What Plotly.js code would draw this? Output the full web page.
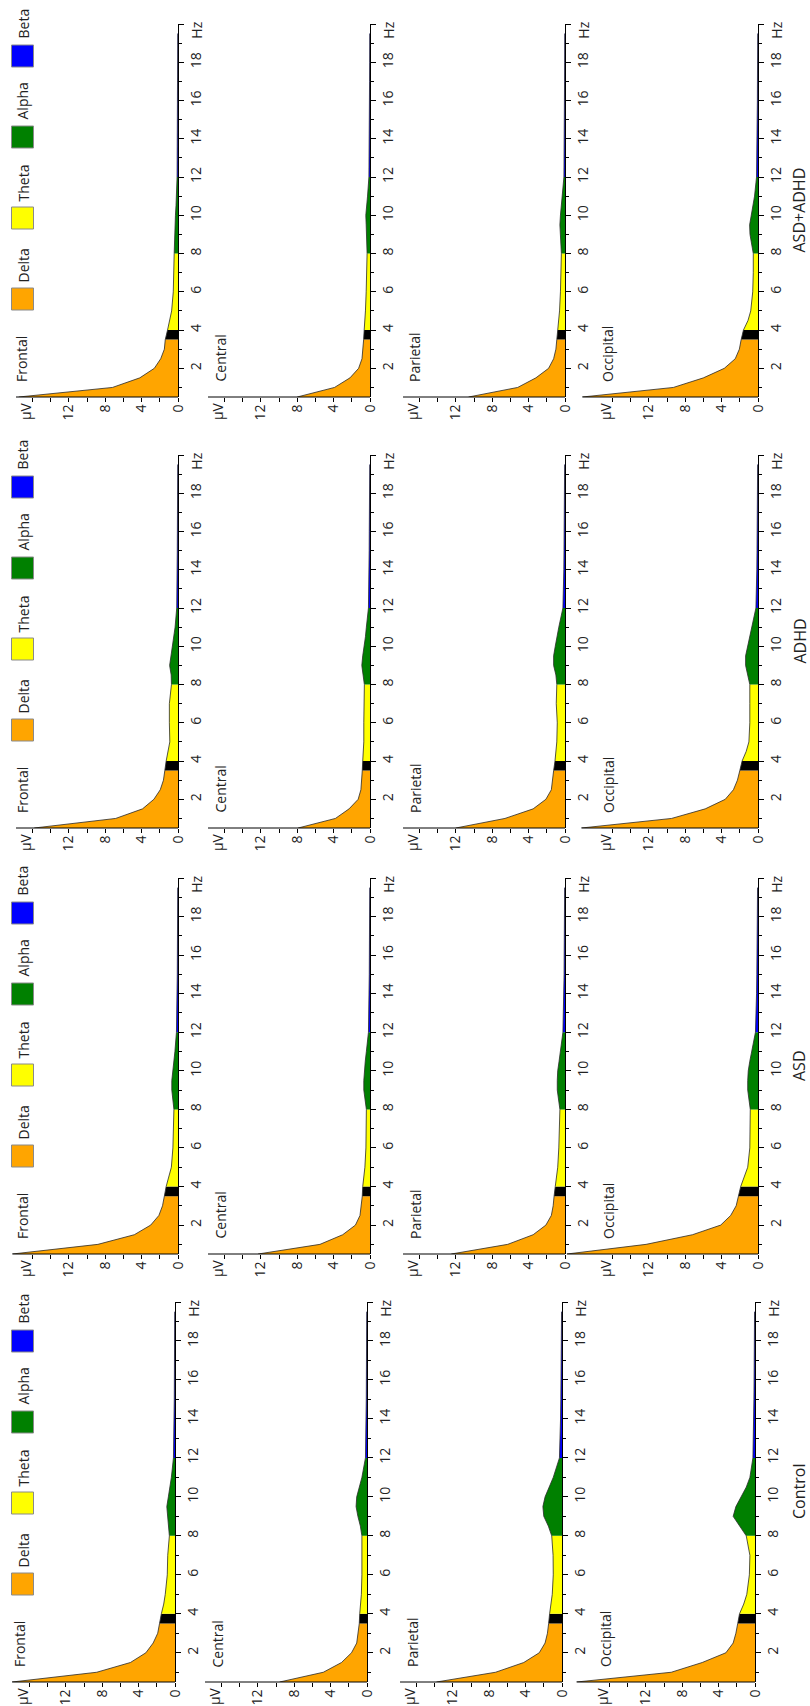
<!DOCTYPE html>
<html><head><meta charset="utf-8">
<script src="https://cdn.plot.ly/plotly-3.0.1.min.js"></script>
<style>body{margin:0;background:#fff}#chart{width:810px;height:1706px}</style>
</head><body><div id="chart"></div>
<script>
// ---------- data ----------
const freqHz = [0.5,1,1.5,2,2.5,3,3.5,4,4.5,5,6,7,8,8.5,9,9.5,10,10.5,11,12,13,14,15,16,17,18,19,19.5];

const groups  = ['ASD+ADHD','ADHD','ASD','Control'];
const regions = ['Frontal','Central','Parietal','Occipital'];

const bandNames  = ['Delta','', 'Theta','Alpha','Beta'];
const bandLo     = [0.5, 3.5, 4, 8, 12];
const bandHi     = [3.5, 4, 8, 12, 19.5];
const bandColors = ['#FFA500','#000000','#FFFF00','#008000','#0000FF'];
const legendNames = ['Delta','Theta','Alpha','Beta'];
const legendColors = ['#FFA500','#FFFF00','#008000','#0000FF'];

const asdadhd_frontal   = [17.5,7.2,4.2,2.6,1.9,1.5,1.4,1.15,0.9,0.7,0.52,0.46,0.42,0.4,0.36,0.33,0.28,0.22,0.17,0.1,0.08,0.07,0.06,0.05,0.04,0.04,0.03,0.03];
const asdadhd_central   = [8.0,3.9,2.2,1.25,0.88,0.76,0.7,0.64,0.56,0.5,0.42,0.36,0.32,0.33,0.36,0.42,0.46,0.4,0.27,0.12,0.09,0.08,0.07,0.06,0.05,0.04,0.04,0.03];
const asdadhd_parietal  = [10.6,5.2,3.2,1.8,1.25,1.0,0.9,0.8,0.7,0.6,0.5,0.45,0.4,0.45,0.52,0.56,0.5,0.4,0.28,0.12,0.09,0.08,0.07,0.06,0.05,0.04,0.04,0.03];
const asdadhd_occipital = [19.3,9.3,6.0,3.7,2.5,2.05,1.85,1.6,1.1,0.8,0.58,0.52,0.52,0.7,0.88,0.92,0.72,0.55,0.38,0.16,0.12,0.1,0.08,0.07,0.06,0.05,0.04,0.03];

const adhd_frontal   = [15.8,6.85,3.9,2.65,1.95,1.6,1.45,1.3,1.08,0.9,0.95,0.95,0.72,0.75,0.92,0.78,0.56,0.45,0.32,0.14,0.1,0.09,0.08,0.07,0.06,0.05,0.04,0.03];
const adhd_central   = [7.9,3.8,2.3,1.3,1.0,0.9,0.85,0.8,0.74,0.68,0.68,0.68,0.62,0.73,0.9,0.8,0.62,0.5,0.4,0.17,0.12,0.1,0.09,0.08,0.06,0.05,0.04,0.03];
const adhd_parietal  = [12.0,6.6,3.5,2.1,1.5,1.35,1.25,1.1,1.0,0.9,0.85,0.96,0.9,1.0,1.25,1.25,1.07,0.9,0.68,0.23,0.16,0.13,0.11,0.09,0.08,0.06,0.05,0.04];
const adhd_occipital = [19.4,9.5,5.8,3.6,2.7,2.26,2.0,1.75,1.3,1.0,0.9,0.9,0.9,1.13,1.36,1.36,1.13,0.9,0.62,0.23,0.16,0.13,0.11,0.09,0.08,0.06,0.05,0.04];

const asd_frontal   = [18.2,8.8,4.8,3.0,2.1,1.7,1.5,1.3,1.0,0.73,0.56,0.5,0.45,0.56,0.68,0.68,0.56,0.45,0.34,0.17,0.12,0.1,0.08,0.07,0.06,0.05,0.04,0.03];
const asd_central   = [12.3,5.5,3.0,1.6,1.1,0.96,0.85,0.8,0.68,0.56,0.45,0.4,0.4,0.5,0.68,0.68,0.62,0.52,0.4,0.17,0.12,0.1,0.08,0.07,0.06,0.05,0.04,0.03];
const asd_parietal  = [12.5,6.3,3.5,2.1,1.5,1.3,1.2,1.07,0.92,0.8,0.68,0.62,0.56,0.68,0.85,0.85,0.8,0.65,0.5,0.23,0.16,0.13,0.1,0.09,0.07,0.06,0.05,0.04];
const asd_occipital = [21.0,12.3,7.2,4.1,3.0,2.4,2.15,1.9,1.5,1.13,0.9,0.85,0.85,1.0,1.13,1.13,1.07,0.9,0.68,0.28,0.2,0.16,0.13,0.11,0.09,0.07,0.06,0.05];

const control_frontal   = [17.9,8.6,4.9,3.2,2.4,1.9,1.7,1.5,1.24,1.07,0.85,0.8,0.62,0.73,0.85,0.9,0.73,0.56,0.4,0.17,0.12,0.1,0.08,0.07,0.06,0.05,0.04,0.03];
const control_central   = [9.6,4.8,2.8,1.7,1.13,0.96,0.85,0.8,0.7,0.62,0.56,0.56,0.56,0.73,1.0,1.2,1.13,0.85,0.56,0.17,0.12,0.1,0.08,0.07,0.06,0.05,0.04,0.03];
const control_parietal  = [13.8,7.3,4.2,2.5,1.86,1.6,1.47,1.36,1.2,1.07,0.96,0.98,1.13,1.5,2.0,2.1,1.86,1.4,0.96,0.28,0.2,0.16,0.13,0.11,0.09,0.07,0.06,0.05];
const control_occipital = [19.6,9.2,5.8,3.2,2.4,2.1,1.9,1.7,1.24,0.9,0.62,0.56,0.96,1.7,2.4,2.1,1.5,0.96,0.56,0.23,0.17,0.14,0.12,0.1,0.08,0.07,0.06,0.05];

const hzTicks = [2,4,6,8,10,12,14,16,18,20];
const hzTickText = ['2','4','6','8','10','12','14','16','18',''];
const hzMinor = [1,3,5,7,9,11,13,15,17,19];
const uvTicks = [0,2,4,6,8,10,12,14,16];
const uvTickText = ['0','','4','','8','','12','',''];

const spectra = [
  [asdadhd_frontal, asdadhd_central, asdadhd_parietal, asdadhd_occipital],
  [adhd_frontal, adhd_central, adhd_parietal, adhd_occipital],
  [asd_frontal, asd_central, asd_parietal, asd_occipital],
  [control_frontal, control_central, control_parietal, control_occipital]
];

// ---------- layout geometry (pixels) ----------
const W = 810, H = 1706;
const stripBottom = [397, 828, 1254, 1682];
const stripTop    = [24, 455, 878, 1302];
const stripDx     = [0, 0, 0, -3];
const colZero     = [178, 370, 565, 758];
const PXUV = 9.1;
const AXIS_UV_END = 17.8;
const FONT = 'Open Sans, Noto Sans, sans-serif';

const px = v => v / W;
const py = v => 1 - v / H;

const data = [];
const layout = {
  width: W, height: H,
  margin: {l:0, r:0, t:0, b:0},
  paper_bgcolor: '#fff', plot_bgcolor: 'rgba(0,0,0,0)',
  showlegend: false,
  font: {family: FONT, size: 14, color: '#222'},
  annotations: [], shapes: []
};

for (let r = 0; r < 4; r++) {
  const B = stripBottom[r], T = stripTop[r];
  for (let c = 0; c < 4; c++) {
    const n = r * 4 + c + 1;
    const xa = n === 1 ? 'x' : 'x' + n;
    const ya = n === 1 ? 'y' : 'y' + n;
    const Z = colZero[c] + stripDx[r];
    const xMax = c === 0 ? Math.min(19.0, (Z - 1) / PXUV) : 22.5;
    const vals = spectra[r][c];

    layout['xaxis' + (n === 1 ? '' : n)] = {
      domain: [px(Z - xMax * PXUV), px(Z)], range: [xMax, 0], anchor: ya,
      showline: false, showgrid: false, zeroline: false, fixedrange: true,
      tickmode: 'array', tickvals: uvTicks, ticktext: uvTickText,
      ticks: 'outside', ticklen: 4, tickwidth: 1, tickcolor: '#000',
      ticklabelstandoff: -3,
      tickangle: -90, tickfont: {size: 14, color: '#222', family: FONT}
    };
    layout['yaxis' + (n === 1 ? '' : n)] = {
      domain: [py(B), py(T)], range: [0.5, 20], anchor: xa, side: 'right',
      showline: true, linecolor: '#000', linewidth: 1,
      showgrid: false, zeroline: false, fixedrange: true,
      tickmode: 'array', tickvals: hzTicks, ticktext: hzTickText,
      ticks: 'outside', ticklen: 5, tickwidth: 1, tickcolor: '#000',
      tickangle: -90, tickfont: {size: 14, color: '#222', family: FONT},
      minor: {tickmode: 'array', tickvals: hzMinor, ticks: 'outside', ticklen: 3, tickwidth: 1, tickcolor: '#000', showgrid: false}
    };

    // band fills
    for (let b = 0; b < bandLo.length; b++) {
      const xs = [], ys = [];
      freqHz.forEach((f, i) => { if (f >= bandLo[b] && f <= bandHi[b]) { xs.push(vals[i]); ys.push(f); } });
      data.push({
        type: 'scatter', mode: 'lines', x: xs, y: ys, xaxis: xa, yaxis: ya,
        fill: 'tozerox', fillcolor: bandColors[b],
        line: {color: '#2a2a2a', width: 0.8}, hoverinfo: 'skip', name: bandNames[b]
      });
    }

    // µV axis line
    layout.shapes.push({type: 'line', xref: xa, yref: ya + ' domain',
      x0: 0, x1: Math.max(AXIS_UV_END, Math.min(vals[0], xMax)), y0: 0, y1: 0,
      line: {color: '#000', width: 1}});

    // axis end labels
    layout.annotations.push({text: 'Hz', xref: 'paper', yref: ya, x: px(Z + 19), y: 19.65,
      xanchor: 'center', yanchor: 'middle', textangle: -90, showarrow: false, font: {size: 14}});
    layout.annotations.push({text: 'µV', xref: xa, yref: 'paper', x: 16.8, y: py(B + 3),
      xanchor: 'center', yanchor: 'top', textangle: -90, showarrow: false, font: {size: 14}});
    // region label
    layout.annotations.push({text: regions[c], xref: 'paper', yref: 'paper',
      x: px(Z - (c === 0 ? 156 : 150)), y: py(B - 13), xanchor: 'center', yanchor: 'bottom',
      textangle: -90, showarrow: false, font: {size: 14}});
  }

  // legend (Frontal column only)
  const sqOff = [-98, -179, -260, -341];
  const txOff = [-131, -214, -296, -373];
  for (let k = 0; k < 4; k++) {
    const cy = B + sqOff[k];
    layout.shapes.push({type: 'rect', xref: 'paper', yref: 'paper',
      x0: px(11.5), x1: px(33.5), y0: py(cy + 11), y1: py(cy - 11),
      fillcolor: legendColors[k], line: {color: '#8a8a8a', width: 1}});
    layout.annotations.push({text: legendNames[k], xref: 'paper', yref: 'paper',
      x: px(22.5), y: py(B + txOff[k]), xanchor: 'center', yanchor: 'middle',
      textangle: -90, showarrow: false, font: {size: 14}});
  }
  // group label
  layout.annotations.push({text: groups[r], xref: 'paper', yref: 'paper',
    x: px(799), y: py((B + T) / 2), xanchor: 'center', yanchor: 'middle',
    textangle: -90, showarrow: false, font: {size: 16}});
}

Plotly.newPlot('chart', data, layout, {staticPlot: true, displayModeBar: false});
</script></body></html>
